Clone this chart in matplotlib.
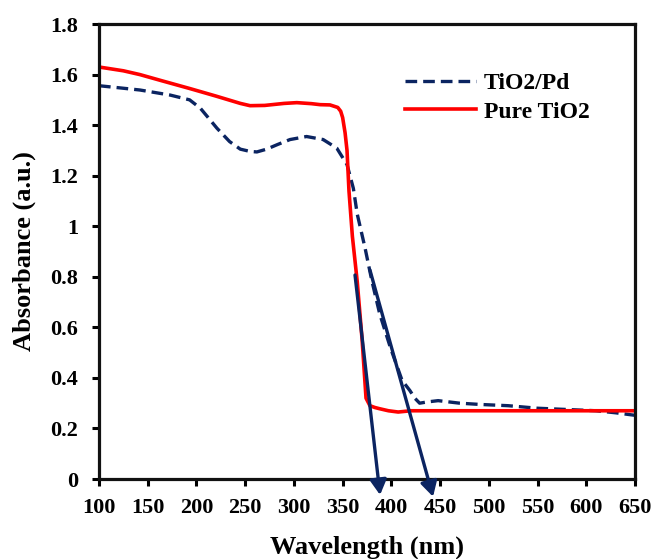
import numpy as np
import matplotlib
matplotlib.use("Agg")
import matplotlib.pyplot as plt

plt.rcParams['font.family'] = ['Liberation Serif', 'DejaVu Serif']
plt.rcParams['font.weight'] = 'bold'

# --- data ---
pure_wl = [100, 125, 142, 165, 193, 220, 245, 255, 270, 290, 303, 318, 327, 337, 345,
           348, 350, 352.5, 354.5, 356.5, 360, 365, 370, 374, 378, 383, 388, 397, 407,
           420, 450, 500, 550, 600, 650]
pure_abs = [1.63, 1.615, 1.60, 1.575, 1.545, 1.515, 1.486, 1.477, 1.478, 1.486, 1.489,
            1.485, 1.481, 1.48, 1.47, 1.455, 1.43, 1.37, 1.30, 1.14, 0.96, 0.78, 0.55,
            0.32, 0.29, 0.283, 0.278, 0.27, 0.265, 0.27, 0.27, 0.27, 0.27, 0.27, 0.27]

pd_wl = [100, 120, 142, 173, 193, 204, 212, 221, 234, 245, 255, 262, 272, 283, 296,
         313, 330, 344, 354.5, 361, 365, 373, 380, 388, 399, 411, 419, 424, 429, 437,
         448, 470, 491, 520, 550, 580, 610, 630, 650]
pd_abs = [1.556, 1.548, 1.539, 1.519, 1.50, 1.467, 1.43, 1.388, 1.335, 1.305, 1.296,
          1.294, 1.305, 1.323, 1.343, 1.355, 1.343, 1.309, 1.244, 1.15, 1.048, 0.914,
          0.784, 0.654, 0.52, 0.39, 0.35, 0.32, 0.30, 0.305, 0.31, 0.30, 0.295, 0.29,
          0.28, 0.275, 0.27, 0.262, 0.252]

# tangent arrows (start -> end), wavelength / absorbance
arrow_starts = [(362.7, 0.807), (378.0, 0.827)]
arrow_ends = [(388.4, -0.063), (442.8, -0.07)]

x_ticks = list(range(100, 651, 50))
y_ticks = [0, 0.2, 0.4, 0.6, 0.8, 1.0, 1.2, 1.4, 1.6, 1.8]

navy = '#0b2461'
red = '#ff0000'

fig = plt.figure(figsize=(6.56, 5.59), dpi=100)
ax = fig.add_axes([0.1509, 0.1431, 0.8171, 0.8139])

ax.plot(pd_wl, pd_abs, color=navy, lw=2.4, dashes=(3.5, 1.8), label='TiO2/Pd')
ax.plot(pure_wl, pure_abs, color=red, lw=2.6, label='Pure TiO2')

for (x0, y0), (x1, y1) in zip(arrow_starts, arrow_ends):
    ax.annotate('', xy=(x1, y1), xytext=(x0, y0), annotation_clip=False,
                arrowprops=dict(arrowstyle='-|>,head_length=0.9,head_width=0.5',
                                color=navy, lw=2.4, shrinkA=0, shrinkB=0))

ax.set_xlim(100, 650)
ax.set_ylim(0, 1.8)
ax.set_xticks(x_ticks)
ax.set_yticks(y_ticks)
ax.set_yticklabels(['%g' % v for v in y_ticks])
ax.tick_params(direction='out', length=5, width=2.2, labelsize=16)
ax.tick_params(axis='y', pad=10)
ax.tick_params(axis='x', pad=9)
for s in ax.spines.values():
    s.set_linewidth(2.3)
    s.set_color('#111111')

ax.set_xlabel('Wavelength (nm)', fontsize=19, fontweight='bold', labelpad=12)
ax.set_ylabel('Absorbance (a.u.)', fontsize=19, fontweight='bold', labelpad=10)

leg = ax.legend(loc='upper right', bbox_to_anchor=(0.955, 0.94), frameon=False,
                fontsize=17, handlelength=3.0, handletextpad=0.35, labelspacing=0.3)

fig.savefig('out.png', dpi=100)
